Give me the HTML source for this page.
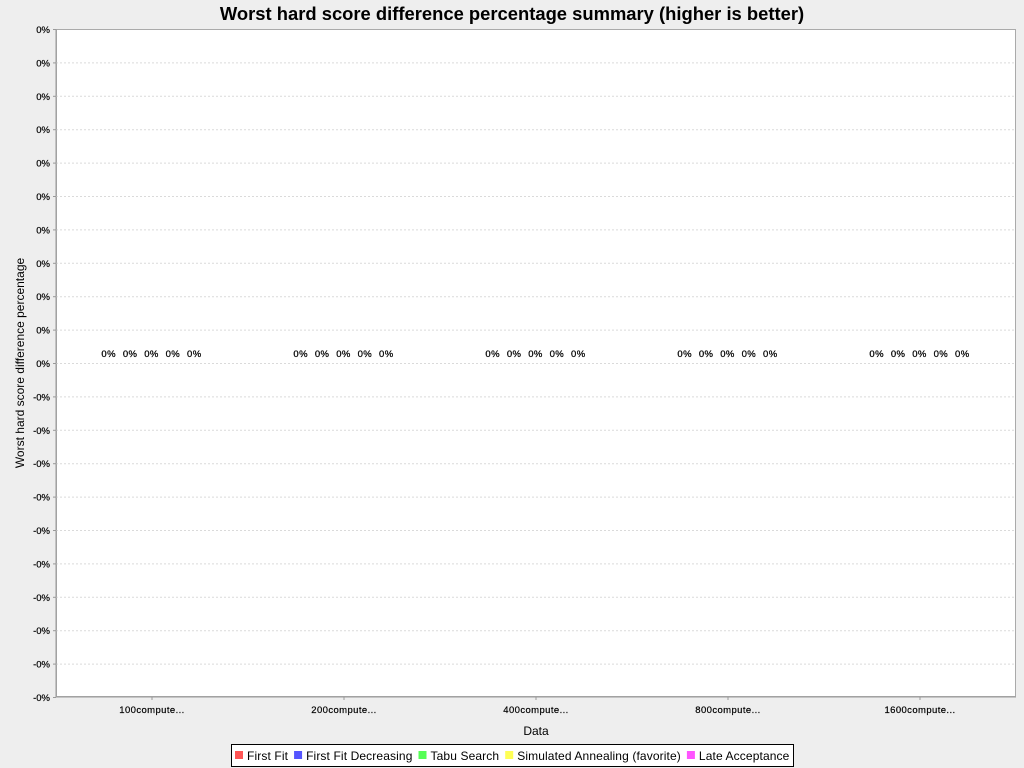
<!DOCTYPE html>
<html><head><meta charset="utf-8">
<style>
html,body{margin:0;padding:0;background:#eeeeee;}
svg{display:block;font-family:"Liberation Sans",sans-serif;}
</style></head>
<body>
<svg id="chart" width="1024" height="768" xmlns="http://www.w3.org/2000/svg">
<rect x="0" y="0" width="1024" height="768" fill="#eeeeee"/>
<text x="512" y="20" text-anchor="middle" font-size="18.4" font-weight="bold" fill="#000">Worst hard score difference percentage summary (higher is better)</text>
<rect x="56.5" y="29.5" width="959" height="667" fill="#ffffff" stroke="#aaaaaa"/>
<g id="grid"></g>
<g id="bars"></g>
<line x1="56" y1="29" x2="56" y2="697" stroke="#999"/>
<line x1="56" y1="697" x2="1016" y2="697" stroke="#999"/>
<text transform="translate(24,363) rotate(-90)" text-anchor="middle" font-size="12" fill="#000">Worst hard score difference percentage</text>
<text x="536" y="735" text-anchor="middle" font-size="12" fill="#000">Data</text>
<g id="legend">
<rect x="231.5" y="744.5" width="562" height="22" fill="#fff" stroke="#000"/>
</g>
</svg>
<script>
const categories = ["100compute...","200compute...","400compute...","800compute...","1600compute..."];
const seriesNames = ["First Fit","First Fit Decreasing","Tabu Search","Simulated Annealing (favorite)","Late Acceptance"];
const seriesColors = ["#ff5555","#5555ff","#55ff55","#ffff55","#ff55ff"];
const values = [
  [0,0,0,0,0],
  [0,0,0,0,0],
  [0,0,0,0,0],
  [0,0,0,0,0],
  [0,0,0,0,0]
];
const yTickValues = [10,9,8,7,6,5,4,3,2,1,0,-1,-2,-3,-4,-5,-6,-7,-8,-9,-10];
const yTickLabels = ["0%","0%","0%","0%","0%","0%","0%","0%","0%","0%","0%","-0%","-0%","-0%","-0%","-0%","-0%","-0%","-0%","-0%","-0%"];
const valueLabels = ["0%","0%","0%","0%","0%"];

const NS = "http://www.w3.org/2000/svg";
const plotL=56, plotR=1016, plotT=29, plotB=697;
const yMin=-10, yMax=10;
function yScale(v){ return plotB - (v - yMin)/(yMax - yMin)*(plotB-plotT); }
const catW = (plotR-plotL)/categories.length;
function xCat(i){ return plotL + catW*(i+0.5); }
const barStep = 21.4;
function xBar(c,s){ return xCat(c) - 1.5 + (s-(seriesNames.length-1)/2)*barStep; }
function mk(tag, attrs, parent){ const e=document.createElementNS(NS,tag); for(const k in attrs) e.setAttribute(k,attrs[k]); parent.appendChild(e); return e; }

const grid=document.getElementById('grid');
yTickValues.forEach((v,i)=>{
  const y=yScale(v)+0.5;
  if (i>0 && i<yTickValues.length-1) {
    const gl = mk('line',{x1:plotL,y1:y,x2:plotR,y2:y,stroke:'#dadada','stroke-dasharray':'2,2'},grid);
    
    
  }
  mk('line',{x1:plotL-3,y1:y,x2:plotL,y2:y,stroke:'#999'},grid);
  const t=mk('text',{x:plotL-6,y:y+3.5,'text-anchor':'end','font-size':'9.5',fill:'#000','stroke':'#000','stroke-width':'0.2'},grid);
  t.textContent=yTickLabels[i];
  
  
});

const bars=document.getElementById('bars');
categories.forEach((c,ci)=>{
  const x=xCat(ci);
  mk('line',{x1:x,y1:plotB,x2:x,y2:plotB+3,stroke:'#999'},bars);
  const t=mk('text',{x:x,y:plotB+16,'text-anchor':'middle','font-size':'9.5',fill:'#000','letter-spacing':'0.4','stroke':'#000','stroke-width':'0.2'},bars);
  t.textContent=c;
  
  
  seriesNames.forEach((s,si)=>{
    const v=values[ci][si];
    const bx=xBar(ci,si);
    const y0=yScale(0), y1=yScale(v);
    const r=mk('rect',{x:bx-9,y:Math.min(y0,y1),width:18,height:Math.abs(y1-y0),fill:seriesColors[si]},bars);
    
    
    const lt=mk('text',{x:bx+1,y:Math.min(y0,y1)-6,'text-anchor':'middle','font-size':'9.5',fill:'#000','letter-spacing':'0.4','stroke':'#000','stroke-width':'0.25'},bars);
    lt.textContent=valueLabels[si];
    
    
  });
});

const legend=document.getElementById('legend');
let lx=235;
seriesNames.forEach((s,i)=>{
  const sw=mk('rect',{x:lx,y:751,width:8,height:8,fill:seriesColors[i]},legend);
  
  
  const t=mk('text',{x:lx+12,y:760,'font-size':'12',fill:'#000','letter-spacing':'0.12'},legend);
  t.textContent=s;
  
  
  lx += 12 + t.getComputedTextLength() + 6;
});
</script>
</body></html>
